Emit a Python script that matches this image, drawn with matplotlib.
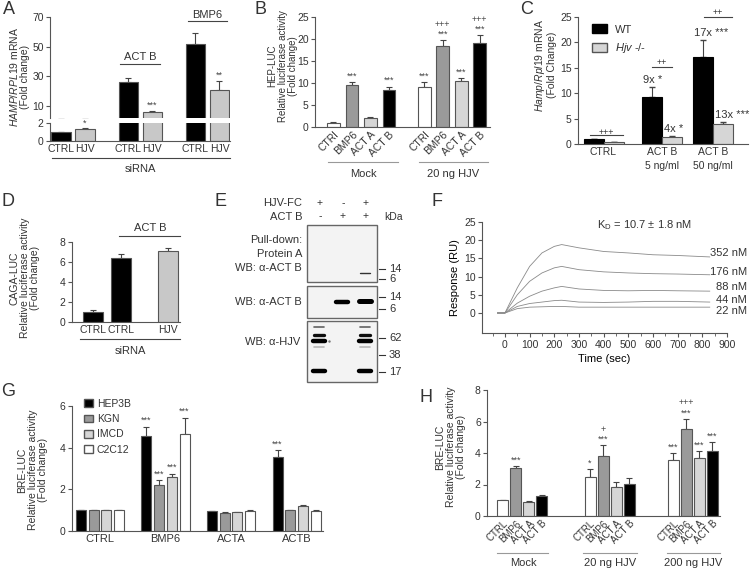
import numpy as np
import matplotlib
matplotlib.use('Agg')
import matplotlib.pyplot as plt
from matplotlib.patches import Patch, Rectangle

plt.rcParams['font.family'] = ['Liberation Sans', 'DejaVu Sans']
plt.rcParams['mathtext.fontset'] = 'custom'
plt.rcParams['mathtext.rm'] = 'Liberation Sans'
plt.rcParams['mathtext.it'] = 'Liberation Sans:italic'
plt.rcParams['text.color'] = '#333333'
plt.rcParams['axes.edgecolor'] = '#555555'
plt.rcParams['xtick.color'] = '#555555'
plt.rcParams['ytick.color'] = '#555555'
plt.rcParams['xtick.labelcolor'] = '#333333'
plt.rcParams['ytick.labelcolor'] = '#333333'

# ---- data ----
# A
a_labels = ['CTRL', 'HJV', 'CTRL', 'HJV', 'CTRL', 'HJV']
a_vals = [1.0, 1.35, 26.2, 6.0, 51.8, 20.7]
a_top = [1.05, 1.45, 29.0, 7.0, 59.0, 26.9]
# B
b_conds = ['CTRl', 'BMP6', 'ACT A', 'ACT B']
b_mock = [1.0, 9.5, 2.0, 8.3]
b_mock_top = [1.05, 10.2, 2.2, 9.1]
b_hjv = [9.1, 18.3, 10.4, 19.2]
b_hjv_top = [10.2, 19.7, 11.1, 20.9]
# C
c_groups = ['CTRL', 'ACT B\n5 ng/ml', 'ACT B\n50 ng/ml']
c_wt = [1.0, 9.3, 17.2]
c_wt_top = [1.05, 11.3, 20.5]
c_ko = [0.3, 1.4, 3.9]
c_ko_top = [0.35, 1.6, 4.3]
c_fold_wt = ['', '9x *', '17x ***']
c_fold_ko = ['', '4x *', '13x ***']
# D
d_labels = ['CTRL', 'CTRL', 'HJV']
d_vals = [1.0, 6.45, 7.15]
d_top = [1.25, 6.8, 7.4]
# F
f_time = [-30, 0, 50, 100, 150, 200, 230, 300, 400, 500, 600, 700, 830]
f_352 = [0, 0, 6.9, 12.8, 16.5, 18.3, 18.8, 17.9, 16.9, 16.5, 16.0, 15.8, 15.4]
f_176 = [0, 0, 5.0, 8.7, 11.0, 12.4, 12.8, 11.9, 11.3, 11.0, 10.8, 10.7, 10.5]
f_88 = [0, 0, 2.7, 4.6, 6.0, 6.9, 7.3, 6.6, 6.2, 6.1, 6.2, 6.1, 6.0]
f_44 = [0, 0, 1.8, 2.6, 3.0, 3.4, 3.5, 3.0, 2.9, 3.0, 3.2, 3.2, 3.0]
f_22 = [0, 0, 1.2, 1.6, 1.7, 1.8, 1.8, 1.6, 1.6, 1.6, 1.6, 1.6, 1.6]
f_conc = ['352 nM', '176 nM', '88 nM', '44 nM', '22 nM']
# G
g_groups = ['CTRL', 'BMP6', 'ACTA', 'ACTB']
g_cells = ['HEP3B', 'KGN', 'IMCD', 'C2C12']
g_vals = [[1.0, 4.57, 0.95, 3.55],
          [1.0, 2.23, 0.88, 1.0],
          [1.0, 2.6, 0.9, 1.19],
          [1.0, 4.65, 0.96, 0.96]]
g_top = [[1.02, 5.0, 0.98, 3.87],
         [1.02, 2.44, 0.9, 1.03],
         [1.03, 2.76, 0.93, 1.23],
         [1.03, 5.44, 1.02, 1.0]]
# H
h_conds = ['CTRL', 'BMP6', 'ACT A', 'ACT B']
h_groups = ['Mock', '20 ng HJV', '200 ng HJV']
h_vals = [[1.0, 3.04, 0.9, 1.3],
          [2.5, 3.83, 1.87, 2.02],
          [3.57, 5.55, 3.66, 4.1]]
h_top = [[1.03, 3.15, 0.95, 1.35],
         [2.98, 4.49, 2.13, 2.4],
         [4.0, 6.17, 4.1, 4.68]]

W, H = 750, 568
fig = plt.figure(figsize=(7.5, 5.68), dpi=100)

def px_ax(x0, y0, x1, y1):
    return fig.add_axes([x0 / W, 1 - y1 / H, (x1 - x0) / W, (y1 - y0) / H])

def style(ax, xticklen=0):
    for s in ['top', 'right']:
        ax.spines[s].set_visible(False)
    for s in ['left', 'bottom']:
        ax.spines[s].set_linewidth(0.8)
    ax.tick_params(axis='y', labelsize=7.5, length=3, width=0.8, pad=1.5)
    ax.tick_params(axis='x', labelsize=7.5, length=xticklen, width=0.8, pad=2)
    ax.patch.set_alpha(0)

def bars(ax, x, vals, top, colors, width):
    ax.bar(x, vals, width=width, color=colors, edgecolor='#555555', linewidth=0.8, zorder=2)
    err = np.array(top) - np.array(vals)
    ax.errorbar(x, vals, yerr=[np.zeros(len(vals)), err], fmt='none',
                ecolor='#444444', elinewidth=0.8, capsize=2.2, capthick=0.8, zorder=1)

def mark(ax, x, y, s, size=6.5):
    ax.text(x, y, s, ha='center', va='bottom', fontsize=size, color='#444444')

WHITE, DARK, LIGHT, BLACK = 'white', '#9a9a9a', '#d6d6d6', 'black'

# ---- A ----
a_x = [0, 1, 2.8, 3.8, 5.6, 6.6]
a_col = [BLACK, '#c8c8c8'] * 3
axA_up = px_ax(50, 17, 230, 118)
axA_lo = px_ax(50, 123, 230, 141)
for ax in (axA_up, axA_lo):
    bars(ax, a_x, a_vals, a_top, a_col, 0.8)
    style(ax)
    ax.set_xlim(-0.46, 7.04)
axA_up.set_ylim(2, 70)
axA_up.set_yticks([10, 30, 50, 70])
axA_up.spines['bottom'].set_visible(False)
axA_up.set_xticks([])
axA_lo.set_ylim(0, 2)
axA_lo.set_yticks([0, 2])
axA_lo.set_xticks(a_x)
axA_lo.set_xticklabels(a_labels)
mark(axA_lo, a_x[1], a_top[1] + 0.05, '*')
mark(axA_up, a_x[3], a_top[3] + 0.8, '***')
mark(axA_up, a_x[5], a_top[5] + 1.0, '**')

# ---- B ----
b_x = [0, 1, 2, 3, 4.9, 5.9, 6.9, 7.9]
b_col = [WHITE, DARK, LIGHT, BLACK] * 2
axB = px_ax(315, 17, 490, 127)
bars(axB, b_x, b_mock + b_hjv, b_mock_top + b_hjv_top, b_col, 0.7)
style(axB)
axB.set_xlim(-1.0, 8.46)
axB.set_ylim(0, 25)
axB.set_yticks(range(0, 26, 5))
axB.set_xticks(b_x)
axB.set_xticklabels(b_conds * 2, rotation=45, ha='right', rotation_mode='anchor')
b_tops = b_mock_top + b_hjv_top
for i in [1, 3, 4, 5, 6, 7]:
    mark(axB, b_x[i], b_tops[i] + 0.4, '***')
for i in [5, 7]:
    mark(axB, b_x[i], b_tops[i] + 2.6, '+++')

# ---- C ----
c_cent = np.array([1.275, 4.2, 6.75])
axC = px_ax(578, 17, 748, 144)
axC.bar(c_cent - 0.5, c_wt, width=1.0, color=BLACK, edgecolor='black', linewidth=0.8, zorder=2)
axC.bar(c_cent + 0.5, c_ko, width=1.0, color=LIGHT, edgecolor='#555555', linewidth=0.8, zorder=2)
axC.errorbar(c_cent - 0.5, c_wt, yerr=[np.zeros(3), np.array(c_wt_top) - c_wt], fmt='none',
             ecolor='#444444', elinewidth=0.8, capsize=2.2, zorder=1)
axC.errorbar(c_cent + 0.5, c_ko, yerr=[np.zeros(3), np.array(c_ko_top) - c_ko], fmt='none',
             ecolor='#444444', elinewidth=0.8, capsize=2.2, zorder=1)
style(axC)
axC.set_xlim(0, 8.5)
axC.set_ylim(0, 25)
axC.set_yticks(range(0, 26, 5))
axC.set_xticks(c_cent)
axC.set_xticklabels(c_groups, linespacing=1.5)
for i in range(3):
    if c_fold_wt[i]:
        axC.text(c_cent[i] - 0.95, c_wt_top[i] + 0.4, c_fold_wt[i], fontsize=8, va='bottom')
        axC.text(c_cent[i] + 0.1, c_ko_top[i] + 0.4, c_fold_ko[i], fontsize=8, va='bottom')
axC.legend(handles=[Patch(fc=BLACK, ec='black'), Patch(fc=LIGHT, ec='#555555')],
           labels=['WT', r'$\mathit{Hjv}$ -/-'], loc='upper left',
           bbox_to_anchor=(10 / 170, 1 - 3 / 127), frameon=False, fontsize=8,
           handlelength=1.3, handleheight=0.8, borderaxespad=0, handletextpad=0.7,
           labelspacing=0.6)

# ---- D ----
d_x = [1.05, 2.45, 4.775]
axD = px_ax(72, 242, 180, 322)
bars(axD, d_x, d_vals, d_top, [BLACK, BLACK, '#c8c8c8'], 1.0)
style(axD)
axD.set_xlim(0, 5.4)
axD.set_ylim(0, 8)
axD.set_yticks(range(0, 9, 2))
axD.set_xticks(d_x)
axD.set_xticklabels(d_labels)

# ---- F ----
axF = px_ax(482, 222, 727, 333)
for curve in [f_352, f_176, f_88, f_44, f_22]:
    axF.plot(f_time, curve, color='#8a8a8a', lw=0.6)
style(axF, xticklen=3)
axF.set_xlim(-93, 900)
axF.set_ylim(-5.5, 25)
axF.set_yticks(range(0, 26, 5))
axF.set_xticks(range(0, 901, 100))
axF.set_xticks(range(-50, 901, 50), minor=True)
axF.tick_params(axis='x', which='minor', length=2, width=0.6)
axF.set_xlabel('Time (sec)', fontsize=8, labelpad=3)
axF.set_ylabel('Response (RU)', fontsize=8, labelpad=3)
f_label_y = [253, 272, 287, 300, 311]

# ---- G ----
g_cent = np.array([2.2, 7.36, 12.52, 17.68])
g_off = [-1.5, -0.5, 0.5, 1.5]
g_col = [BLACK, DARK, LIGHT, WHITE]
axG = px_ax(72, 406, 323, 531)
for k in range(4):
    bars(axG, g_cent + g_off[k], g_vals[k], g_top[k], [g_col[k]] * 4, 0.79)
style(axG)
axG.set_xlim(0, 19.76)
axG.set_ylim(0, 6)
axG.set_yticks([0, 2, 4, 6])
axG.set_xticks(g_cent)
axG.set_xticklabels(g_groups, fontsize=8)
for k in range(4):
    mark(axG, g_cent[1] + g_off[k], g_top[k][1] + 0.08, '***')
mark(axG, g_cent[3] + g_off[0], g_top[0][3] + 0.08, '***')
axG.legend(handles=[Patch(fc=c, ec='#555555') for c in g_col], labels=g_cells,
           loc='upper left', bbox_to_anchor=(8 / 251, 1.09), frameon=False, fontsize=7.5,
           handlelength=0.8, handleheight=0.8, borderaxespad=0, handletextpad=0.4,
           labelspacing=0.5)

# ---- H ----
h_cent = np.array([2.71, 9.42, 15.81])
h_col = [WHITE, DARK, LIGHT, BLACK]
axH = px_ax(487, 390, 720, 516)
h_x = np.concatenate([h_cent[g] + np.array(g_off) for g in range(3)])
bars(axH, h_x, sum(h_vals, []), sum(h_top, []), h_col * 3, 0.85)
style(axH)
axH.set_xlim(0, 17.9)
axH.set_ylim(0, 8)
axH.set_yticks(range(0, 9, 2))
axH.set_xticks(h_x)
axH.set_xticklabels(h_conds * 3, rotation=45, ha='right', rotation_mode='anchor', fontsize=7)
h_tops = sum(h_top, [])
for i in [1, 5, 8, 9, 10, 11]:
    mark(axH, h_x[i], h_tops[i] + 0.1, '***')
mark(axH, h_x[4], h_tops[4] + 0.1, '*')
mark(axH, h_x[5], h_tops[5] + 0.72, '+')
mark(axH, h_x[9], h_tops[9] + 0.72, '+++')

# ---- overlay for labels, brackets and the blot ----
ov = fig.add_axes([0, 0, 1, 1])
ov.set_xlim(0, W)
ov.set_ylim(H, 0)
ov.axis('off')

def line(x0, x1, y, color='#444444'):
    ov.plot([x0, x1], [y, y], color=color, lw=0.8)

def txt(x, y, s, size=8, **kw):
    kw.setdefault('ha', 'center')
    kw.setdefault('va', 'center')
    ov.text(x, y, s, fontsize=size, **kw)

def ylab(x, y, s, size=7.5):
    txt(x, y, s, size=size, rotation=90, multialignment='center', linespacing=1.05)

for letter, x, y in [('A', 9, 10), ('B', 261, 10), ('C', 527, 9), ('D', 8, 201),
                     ('E', 221, 201), ('F', 437, 201), ('G', 8, 392), ('H', 426, 397)]:
    txt(x, y, letter, size=13)

# A
txt(140, 57, 'ACT B'); line(120, 160, 64)
txt(207, 15, 'BMP6'); line(188, 227, 21)
line(52, 230, 158); txt(140, 169, 'siRNA')
ylab(19, 77, r'$\mathit{HAMP/RPL19}$ mRNA' + '\n(Fold change)')
# B
line(328, 398, 162, '#999999'); line(419, 488, 162, '#999999')
txt(363, 174, 'Mock'); txt(453, 174, '20 ng HJV')
ylab(283, 66, 'HEP-LUC\nRelative luciferase activity\n(Fold change)', size=7)
# C
line(590, 623, 135); txt(606, 132, '+++', size=6.5)
line(652, 672, 67); txt(662, 63, '++', size=6.5)
line(704, 732, 17); txt(718, 13, '++', size=6.5)
ylab(545, 65, r'$\mathit{Hamp/Rpl19}$ mRNA' + '\n(Fold Change)')
# D
line(119, 180, 236); txt(150, 228, 'ACT B')
line(80, 180, 339); txt(130, 351, 'siRNA')
ylab(25, 278, 'CAGA-LUC\nRelative luciferase activity\n(Fold change)')
# E blot
e_lanes = [320, 343, 366]
e_hjvfc = ['+', '-', '+']
e_actb = ['-', '+', '+']
for lx, s1, s2 in zip(e_lanes, e_hjvfc, e_actb):
    txt(lx, 203, s1, size=7.5)
    txt(lx, 216, s2, size=7.5)
txt(302, 203, 'HJV-FC', ha='right')
txt(302, 217, 'ACT B', ha='right')
txt(384, 217, 'kDa', ha='left', size=7.5)
txt(302, 240, 'Pull-down:', ha='right')
txt(302, 254, 'Protein A', ha='right')
txt(302, 268, 'WB: α-ACT B', ha='right')
txt(302, 302, 'WB: α-ACT B', ha='right')
txt(300, 342, 'WB: α-HJV', ha='right')
e_boxes = [(307, 225, 377, 282), (307, 286, 377, 318), (307, 321, 377, 382)]
for x0, y0, x1, y1 in e_boxes:
    ov.add_patch(Rectangle((x0, y0), x1 - x0, y1 - y0, fc='#f3f3f3', ec='#666666', lw=1.0))
# bands: lane index, y, half width, thickness, alpha
e_bands = [(2, 273, 5, 1.0, 0.8),
           (1, 302, 6, 3.2, 1.0), (2, 301, 6, 3.6, 1.0),
           (0, 327, 5, 1.2, 0.6), (2, 327, 5, 1.2, 0.6),
           (0, 335, 5, 2.4, 0.95), (2, 335, 5, 2.4, 0.95),
           (0, 341, 6, 3.2, 1.0), (2, 341, 6, 3.2, 1.0),
           (0, 347, 5, 1.2, 0.25), (2, 347, 5, 1.2, 0.25),
           (0, 371, 6, 3.2, 1.0), (2, 371, 6, 3.2, 1.0)]
for lane, y, hw, th, al in e_bands:
    cx = e_lanes[lane] - 1
    ov.plot([cx - hw, cx + hw], [y, y], color='black', lw=th, alpha=al,
            solid_capstyle='round')
ov.plot([329], [341], marker='.', ms=1.5, color='#777777')
e_mw = [(269, '14'), (279, '6'), (297, '14'), (309, '6'), (338, '62'), (355, '38'), (372, '17')]
for y, s in e_mw:
    line(379, 385, y, '#333333')
    txt(389, y, s, ha='left', size=8)
# F
txt(597, 225, r'K$_\mathrm{D}$ = 10.7 $\pm$ 1.8 nM', ha='left', size=8)
for y, s in zip(f_label_y, f_conc):
    txt(747, y, s, ha='right', size=8)
# G
ylab(33, 470, 'BRE-LUC\nRelative luciferase activity\n(Fold change)')
# H
line(497, 548, 553, '#999999'); line(583, 637, 553, '#999999'); line(667, 720, 553, '#999999')
for cx, s in zip([523, 610, 693], h_groups):
    txt(cx, 563, s)
ylab(451, 447, 'BRE-LUC\nRelative luciferase activity\n(Fold change)')

fig.savefig('out.png', dpi=100)
